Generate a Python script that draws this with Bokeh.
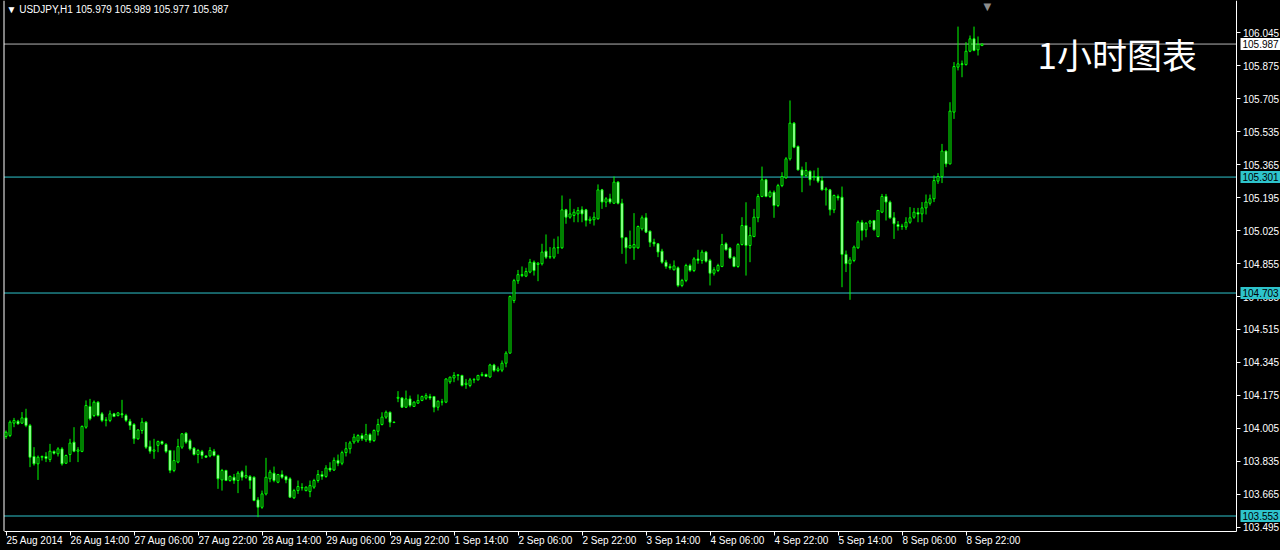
from bokeh.plotting import figure
from bokeh.models import (ColumnDataSource, Range1d, FixedTicker, Label,
                          NumeralTickFormatter, GlobalInlineStyleSheet)
from bokeh.embed import file_html
from bokeh.resources import INLINE

symbol = "USDJPY,H1"
chart_note = "1小时图表"

opens = [
    103.963, 103.968, 104.032, 104.042, 104.032, 104.059, 104.020, 103.860, 103.822, 103.856,
    103.860, 103.844, 103.886, 103.874, 103.899, 103.825, 103.870, 103.934, 103.887, 103.886,
    104.011, 104.118, 104.071, 104.140, 104.080, 104.046, 104.046, 104.080, 104.071, 104.080,
    104.071, 104.042, 104.025, 103.951, 103.994, 104.037, 103.911, 103.887, 103.917, 103.937,
    103.922, 103.891, 103.788, 103.831, 103.908, 103.980, 103.942, 103.903, 103.870, 103.886,
    103.863, 103.863, 103.887, 103.865, 103.739, 103.788, 103.736, 103.753, 103.736, 103.781,
    103.753, 103.757, 103.753, 103.636, 103.598, 103.667, 103.745, 103.774, 103.727, 103.767,
    103.757, 103.745, 103.647, 103.684, 103.700, 103.684, 103.679, 103.702, 103.736, 103.767,
    103.757, 103.800, 103.790, 103.840, 103.825, 103.880, 103.900, 103.935, 103.940, 103.968,
    103.946, 103.973, 103.942, 103.990, 104.025, 104.063, 104.088, 104.037, 104.160, 104.162,
    104.114, 104.157, 104.118, 104.135, 104.149, 104.161, 104.169, 104.169, 104.114, 104.140,
    104.140, 104.245, 104.265, 104.278, 104.278, 104.231, 104.226, 104.255, 104.255, 104.278,
    104.283, 104.270, 104.332, 104.303, 104.305, 104.341, 104.393, 104.664, 104.766, 104.798,
    104.790, 104.811, 104.862, 104.850, 104.854, 104.919, 104.888, 104.888, 104.936, 104.936,
    105.132, 105.094, 105.103, 105.111, 105.132, 105.132, 105.077, 105.081, 105.086, 105.235,
    105.172, 105.189, 105.166, 105.275, 105.166, 104.988, 104.936, 104.936, 104.936, 105.034,
    105.091, 105.022, 104.965, 104.957, 104.919, 104.862, 104.840, 104.823, 104.833, 104.742,
    104.768, 104.845, 104.819, 104.879, 104.871, 104.914, 104.871, 104.805, 104.819, 104.840,
    104.957, 104.934, 104.888, 104.840, 104.953, 105.051, 104.948, 104.994, 105.091, 105.201,
    105.287, 105.201, 105.223, 105.154, 105.257, 105.297, 105.395, 105.579, 105.459, 105.338,
    105.309, 105.331, 105.300, 105.304, 105.283, 105.235, 105.235, 105.132, 105.201, 105.197,
    104.902, 104.854, 104.871, 104.936, 105.068, 105.029, 105.063, 105.077, 104.994, 105.120,
    105.201, 105.172, 105.091, 105.056, 105.046, 105.043, 105.068, 105.094, 105.118, 105.111,
    105.142, 105.166, 105.189, 105.280, 105.304, 105.435, 105.369, 105.636, 105.868, 105.885,
    105.881, 105.950, 106.014, 105.957, 105.979,
]
highs = [
    103.994, 104.046, 104.059, 104.049, 104.089, 104.106, 104.028, 103.908, 103.865, 103.865,
    103.882, 103.925, 103.891, 103.908, 103.908, 103.870, 103.951, 104.011, 103.908, 104.020,
    104.149, 104.157, 104.149, 104.145, 104.089, 104.063, 104.097, 104.085, 104.089, 104.152,
    104.080, 104.054, 104.032, 104.000, 104.059, 104.042, 103.942, 103.951, 103.942, 103.942,
    103.929, 103.894, 103.891, 103.951, 103.980, 103.985, 103.951, 103.908, 103.899, 103.894,
    103.865, 103.908, 103.899, 103.870, 103.796, 103.791, 103.762, 103.770, 103.784, 103.788,
    103.813, 103.764, 103.757, 103.650, 103.684, 103.853, 103.791, 103.808, 103.770, 103.788,
    103.762, 103.753, 103.693, 103.736, 103.722, 103.705, 103.736, 103.745, 103.790, 103.785,
    103.815, 103.830, 103.855, 103.870, 103.890, 103.935, 103.940, 103.977, 103.975, 103.980,
    104.028, 103.980, 104.000, 104.054, 104.088, 104.097, 104.092, 104.040, 104.197, 104.165,
    104.200, 104.174, 104.145, 104.180, 104.174, 104.186, 104.183, 104.172, 104.149, 104.157,
    104.262, 104.272, 104.295, 104.283, 104.281, 104.260, 104.265, 104.265, 104.281, 104.295,
    104.287, 104.338, 104.338, 104.324, 104.355, 104.403, 104.690, 104.776, 104.822, 104.840,
    104.833, 104.879, 104.871, 104.862, 104.957, 105.005, 104.940, 104.983, 104.995, 105.206,
    105.137, 105.189, 105.137, 105.146, 105.150, 105.137, 105.098, 105.120, 105.263, 105.240,
    105.198, 105.215, 105.304, 105.280, 105.189, 104.991, 105.025, 105.115, 105.051, 105.103,
    105.115, 105.025, 104.983, 104.960, 104.931, 104.874, 104.854, 104.871, 104.840, 104.776,
    104.854, 104.854, 104.888, 104.926, 104.926, 104.920, 104.879, 104.836, 104.854, 105.008,
    104.965, 104.940, 104.892, 104.960, 105.094, 105.171, 105.043, 105.137, 105.214, 105.355,
    105.292, 105.232, 105.232, 105.266, 105.326, 105.404, 105.696, 105.585, 105.464, 105.355,
    105.378, 105.335, 105.335, 105.349, 105.304, 105.249, 105.240, 105.211, 105.211, 105.252,
    104.922, 104.888, 104.948, 105.077, 105.080, 105.068, 105.080, 105.080, 105.131, 105.214,
    105.214, 105.180, 105.120, 105.074, 105.060, 105.094, 105.146, 105.142, 105.142, 105.172,
    105.211, 105.211, 105.309, 105.321, 105.472, 105.438, 105.687, 105.894, 106.077, 105.902,
    105.997, 106.031, 106.077, 106.026, 105.989,
]
lows = [
    103.951, 103.960, 104.011, 104.025, 104.028, 104.011, 103.805, 103.813, 103.739, 103.839,
    103.831, 103.831, 103.870, 103.860, 103.813, 103.822, 103.831, 103.882, 103.831, 103.882,
    104.003, 104.046, 104.063, 104.066, 104.037, 104.015, 104.037, 104.063, 104.066, 104.059,
    104.037, 103.997, 103.925, 103.946, 103.977, 103.899, 103.874, 103.848, 103.882, 103.920,
    103.877, 103.774, 103.779, 103.825, 103.899, 103.925, 103.891, 103.865, 103.825, 103.848,
    103.853, 103.856, 103.860, 103.693, 103.684, 103.733, 103.730, 103.719, 103.671, 103.736,
    103.745, 103.693, 103.629, 103.547, 103.590, 103.659, 103.727, 103.727, 103.722, 103.745,
    103.722, 103.647, 103.641, 103.667, 103.684, 103.680, 103.650, 103.693, 103.725, 103.740,
    103.750, 103.780, 103.785, 103.810, 103.815, 103.860, 103.875, 103.925, 103.930, 103.940,
    103.935, 103.930, 103.935, 103.968, 104.020, 104.054, 104.011, 104.032, 104.140, 104.110,
    104.110, 104.114, 104.115, 104.131, 104.145, 104.152, 104.152, 104.088, 104.097, 104.123,
    104.135, 104.235, 104.243, 104.252, 104.221, 104.209, 104.217, 104.238, 104.252, 104.272,
    104.270, 104.265, 104.295, 104.295, 104.295, 104.320, 104.390, 104.651, 104.750, 104.785,
    104.785, 104.805, 104.793, 104.764, 104.845, 104.879, 104.879, 104.879, 104.905, 104.931,
    105.060, 105.086, 105.068, 105.068, 105.068, 105.046, 105.060, 105.051, 105.081, 105.137,
    105.146, 105.163, 105.163, 105.160, 104.905, 104.854, 104.931, 104.874, 104.931, 105.025,
    105.012, 104.940, 104.943, 104.888, 104.854, 104.828, 104.823, 104.819, 104.733, 104.733,
    104.759, 104.811, 104.811, 104.854, 104.854, 104.860, 104.742, 104.793, 104.811, 104.836,
    104.922, 104.879, 104.836, 104.833, 104.948, 104.793, 104.862, 104.991, 105.068, 105.197,
    105.197, 105.194, 105.091, 105.146, 105.249, 105.292, 105.386, 105.450, 105.335, 105.223,
    105.300, 105.257, 105.283, 105.270, 105.232, 105.154, 105.103, 105.115, 105.180, 104.733,
    104.811, 104.668, 104.862, 104.931, 104.974, 104.991, 105.043, 105.025, 104.991, 105.115,
    105.077, 105.086, 104.982, 105.025, 105.029, 105.029, 105.060, 105.086, 105.068, 105.068,
    105.108, 105.154, 105.172, 105.266, 105.270, 105.352, 105.366, 105.601, 105.851, 105.816,
    105.876, 105.945, 105.950, 105.928, 105.977,
]
closes = [
    103.985, 104.037, 104.046, 104.028, 104.059, 104.020, 103.856, 103.822, 103.856, 103.860,
    103.850, 103.887, 103.877, 103.899, 103.822, 103.865, 103.929, 103.887, 103.894, 104.015,
    104.123, 104.054, 104.140, 104.071, 104.046, 104.049, 104.080, 104.066, 104.085, 104.075,
    104.046, 104.020, 103.951, 103.997, 104.037, 103.908, 103.887, 103.894, 103.937, 103.925,
    103.886, 103.788, 103.839, 103.911, 103.977, 103.934, 103.899, 103.870, 103.891, 103.865,
    103.856, 103.891, 103.865, 103.745, 103.788, 103.736, 103.757, 103.736, 103.774, 103.753,
    103.762, 103.736, 103.633, 103.598, 103.667, 103.753, 103.779, 103.736, 103.767, 103.753,
    103.739, 103.650, 103.684, 103.705, 103.698, 103.702, 103.710, 103.736, 103.767, 103.757,
    103.800, 103.790, 103.840, 103.825, 103.880, 103.900, 103.930, 103.960, 103.968, 103.951,
    103.973, 103.942, 103.994, 104.025, 104.063, 104.088, 104.037, 104.035, 104.165, 104.114,
    104.157, 104.123, 104.140, 104.149, 104.169, 104.174, 104.162, 104.114, 104.145, 104.142,
    104.260, 104.269, 104.278, 104.281, 104.226, 104.238, 104.255, 104.257, 104.278, 104.283,
    104.273, 104.332, 104.303, 104.312, 104.341, 104.393, 104.685, 104.767, 104.798, 104.793,
    104.814, 104.862, 104.819, 104.857, 104.914, 104.888, 104.891, 104.936, 104.938, 105.132,
    105.094, 105.111, 105.120, 105.129, 105.111, 105.077, 105.084, 105.094, 105.235, 105.172,
    105.189, 105.172, 105.275, 105.166, 104.988, 104.936, 104.948, 104.953, 105.046, 105.091,
    105.017, 104.965, 104.957, 104.914, 104.862, 104.840, 104.833, 104.843, 104.742, 104.768,
    104.845, 104.819, 104.879, 104.871, 104.914, 104.867, 104.805, 104.823, 104.845, 104.953,
    104.926, 104.884, 104.840, 104.953, 105.051, 104.948, 105.000, 105.094, 105.201, 105.287,
    105.201, 105.223, 105.154, 105.257, 105.304, 105.395, 105.579, 105.455, 105.338, 105.309,
    105.335, 105.287, 105.304, 105.280, 105.235, 105.240, 105.132, 105.206, 105.194, 104.902,
    104.854, 104.874, 104.940, 105.068, 105.025, 105.063, 105.074, 105.029, 105.129, 105.201,
    105.172, 105.091, 105.060, 105.046, 105.048, 105.068, 105.091, 105.120, 105.110, 105.142,
    105.172, 105.189, 105.283, 105.304, 105.435, 105.369, 105.641, 105.871, 105.885, 105.881,
    105.950, 106.014, 105.954, 105.985, 105.987,
]

time_labels = ["25 Aug 2014", "26 Aug 14:00", "27 Aug 06:00", "27 Aug 22:00",
               "28 Aug 14:00", "29 Aug 06:00", "29 Aug 22:00", "1 Sep 14:00",
               "2 Sep 06:00", "2 Sep 22:00", "3 Sep 14:00", "4 Sep 06:00",
               "4 Sep 22:00", "5 Sep 14:00", "8 Sep 06:00", "8 Sep 22:00"]
label_bars = [0, 16, 32, 48, 64, 80, 96, 112, 128, 144, 160, 176, 192, 208, 224, 240]
price_ticks = [106.045, 105.875, 105.705, 105.535, 105.365, 105.195, 105.025, 104.855,
               104.685, 104.515, 104.345, 104.175, 104.005, 103.835, 103.665, 103.495]
levels = [105.301, 104.703, 103.553]

GREEN = "#00ff00"
CYAN = "#2ec4cc"
FONT = "Liberation Sans"

W, H = 1280, 550
PX_BAR = 4.0            # pixels per bar
PX_PRICE = 193.9        # pixels per 1.000 of price

x_start = -1.375
x_end = x_start + W / PX_BAR
y_hi = 106.2116
y_lo = y_hi - H / PX_PRICE


def xd(px):   # canvas x pixel -> bar coordinate
    return x_start + px / PX_BAR


def yd(py):   # canvas y pixel -> price coordinate
    return y_hi - py / PX_PRICE


axis_x = xd(1235.5)
axis_y = yd(530.5)
left_x = xd(3.5)

bars = list(range(len(closes)))

p = figure(width=W, height=H, output_backend="svg", toolbar_location=None,
           x_range=Range1d(x_start, x_end), y_range=Range1d(y_lo, y_hi),
           y_axis_location="right",
           min_border_left=0, min_border_right=0, min_border_top=0, min_border_bottom=0,
           background_fill_color="black", border_fill_color="black",
           outline_line_color=None)
p.grid.visible = False
p.stylesheets = [GlobalInlineStyleSheet(css="html,body{background:#000;}")]

src = ColumnDataSource(dict(
    x=bars, o=opens, h=highs, l=lows, c=closes,
    top=[max(a, b) for a, b in zip(opens, closes)],
    bottom=[min(a, b) for a, b in zip(opens, closes)],
    fill=["black" if c >= o else "white" for o, c in zip(opens, closes)],
))

lvl_src = ColumnDataSource(dict(y=levels))
p.segment(x0=left_x, y0="y", x1=axis_x, y1="y", source=lvl_src, line_color=CYAN, line_width=1)
cur_src = ColumnDataSource(dict(y=[closes[-1]]))
p.segment(x0=left_x, y0="y", x1=axis_x, y1="y", source=cur_src, line_color="#b4b4b4", line_width=1)
# left frame border
p.segment(x0=left_x, y0=axis_y, x1=left_x, y1=y_hi, line_color="white", line_width=1)

p.segment(x0="x", y0="l", x1="x", y1="h", source=src, line_color=GREEN, line_width=1)
p.vbar(x="x", width=0.5, top="top", bottom="bottom", source=src,
       fill_color="fill", line_color=GREEN, line_width=1)

# right price axis (drawn inside the canvas at the chart edge)
ya = p.yaxis[0]
ya.fixed_location = axis_x
ya.bounds = (axis_y, y_hi)
ya.ticker = FixedTicker(ticks=price_ticks)
ya.formatter = NumeralTickFormatter(format="0.000")
ya.axis_line_color = "white"
ya.major_tick_line_color = "white"
ya.major_tick_out = 4
ya.major_tick_in = 0
ya.minor_tick_line_color = None
ya.major_label_standoff = 3
ya.major_label_text_color = "white"
ya.major_label_text_font = FONT
ya.major_label_text_font_size = "10px"

# bottom time axis
xa = p.xaxis[0]
xa.fixed_location = axis_y
xa.bounds = (left_x, axis_x)
xa.ticker = FixedTicker(ticks=label_bars)
xa.major_label_overrides = {b: "" for b in label_bars}
xa.axis_line_color = "white"
xa.major_tick_line_color = "white"
xa.major_tick_out = 4
xa.major_tick_in = 0
xa.minor_tick_line_color = None

y_time = yd(540)
for b, t in zip(label_bars, time_labels):
    p.add_layout(Label(x=b + 0.1, y=y_time, text=t, text_color="white",
                       text_font=FONT, text_font_size="10px",
                       text_baseline="middle", text_align="left"))

# price boxes on the axis
for lv in levels:
    p.add_layout(Label(x=xd(1240), y=lv, text=f"{lv:.3f}", text_color="black",
                       text_font=FONT, text_font_size="10px", text_baseline="middle",
                       text_align="left", background_fill_color=CYAN, padding=2))
p.add_layout(Label(x=xd(1240), y=closes[-1], text=f"{closes[-1]:.3f}", text_color="black",
                   text_font=FONT, text_font_size="10px", text_baseline="middle",
                   text_align="left", background_fill_color="white", padding=2))

header = f"\u25BC {symbol}  {opens[-1]:.3f} {highs[-1]:.3f} {lows[-1]:.3f} {closes[-1]:.3f}"
p.add_layout(Label(x=xd(6), y=yd(9), text=header, text_color="white",
                   text_font=FONT, text_font_size="10px", text_baseline="middle",
                   text_align="left"))

# chart-shift marker at the top edge
p.add_layout(Label(x=xd(983), y=yd(0), text="\u25BC", text_color="#8c8c8c",
                   text_font="DejaVu Sans", text_font_size="10px", text_baseline="top",
                   text_align="left"))

p.add_layout(Label(x=xd(1037), y=yd(53), text=chart_note, text_color="white",
                   text_font="Noto Sans CJK SC", text_font_size="35px",
                   text_baseline="middle", text_align="left"))

open("out.html", "w").write(file_html(p, INLINE))
